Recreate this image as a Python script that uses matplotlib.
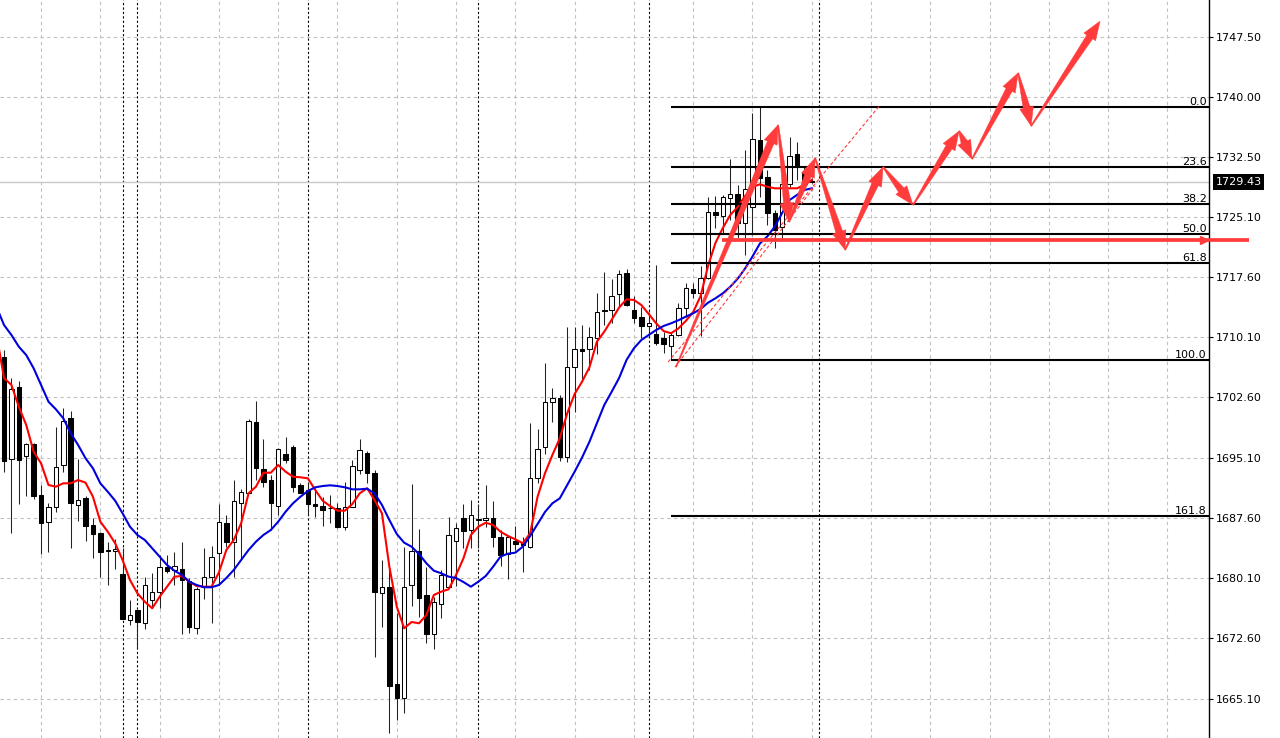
import matplotlib
matplotlib.use("Agg")
import matplotlib.pyplot as plt
import matplotlib.transforms as mtransforms
import numpy as np
from matplotlib.patches import Polygon

# H1 candles, oldest first (bar 0 = first visible bar)
opens = [1707.68, 1694.98, 1703.87, 1695.31, 1696.81, 1690.45, 1687.05, 1688.92, 1694.15, 1700.01,
         1689.21, 1690.04, 1686.72, 1685.68, 1683.60, 1683.51, 1680.61, 1674.88, 1676.13, 1674.55,
         1677.37, 1678.41, 1681.45, 1681.11, 1681.27, 1679.74, 1673.85, 1679.03, 1680.20, 1683.27,
         1686.93, 1684.64, 1689.42, 1690.74, 1699.51, 1693.65, 1692.32, 1689.08, 1695.56, 1696.47,
         1691.70, 1691.08, 1689.33, 1689.08, 1688.87, 1688.87, 1686.50, 1689.00, 1693.57, 1695.72,
         1693.16, 1678.28, 1679.03, 1666.91, 1665.13, 1679.24, 1683.42, 1678.00, 1673.14, 1676.87,
         1679.03, 1684.76, 1687.55, 1686.09, 1687.46, 1687.34, 1687.63, 1685.26, 1683.10, 1684.76,
         1684.44, 1684.01, 1692.53, 1696.40, 1702.00, 1702.57, 1695.23, 1706.44, 1708.60, 1708.60,
         1709.97, 1713.46, 1713.50, 1715.49, 1718.15, 1713.50, 1712.59, 1711.54, 1710.51, 1709.97,
         1708.98, 1710.39, 1713.71, 1716.08, 1715.58, 1717.45, 1725.67, 1725.21, 1727.42, 1727.91,
         1724.38, 1726.37, 1734.68, 1730.03, 1725.55, 1723.88, 1729.20, 1732.94, 1730.73, 1729.57]
highs = [1708.52, 1704.99, 1704.69, 1696.97, 1696.93, 1691.70, 1689.49, 1698.96, 1701.25, 1700.96,
         1694.90, 1690.33, 1687.55, 1685.84, 1684.64, 1684.97, 1683.81, 1677.37, 1676.13, 1680.28,
         1680.70, 1682.98, 1682.98, 1683.32, 1684.56, 1680.11, 1679.03, 1683.81, 1684.10, 1689.33,
         1687.96, 1692.32, 1691.16, 1699.92, 1702.16, 1697.39, 1692.95, 1696.27, 1697.64, 1696.68,
         1691.91, 1692.07, 1691.29, 1690.24, 1690.45, 1689.42, 1692.11, 1694.81, 1697.39, 1695.97,
         1693.57, 1682.36, 1681.11, 1675.72, 1684.01, 1691.82, 1686.18, 1681.52, 1677.78, 1681.11,
         1687.68, 1686.93, 1689.33, 1689.83, 1689.33, 1691.70, 1689.74, 1686.09, 1685.26, 1686.59,
         1685.18, 1699.39, 1698.68, 1706.86, 1703.75, 1702.91, 1711.35, 1711.35, 1711.63, 1711.42,
         1715.58, 1718.27, 1717.36, 1718.48, 1718.60, 1715.24, 1713.91, 1713.29, 1719.11, 1710.80,
         1710.60, 1714.34, 1716.90, 1716.83, 1718.98, 1727.62, 1727.70, 1727.79, 1732.27, 1729.07,
         1733.43, 1738.01, 1738.75, 1730.94, 1725.96, 1729.91, 1735.09, 1734.47, 1731.35, 1729.94]
lows = [1693.36, 1685.68, 1689.33, 1690.33, 1689.92, 1683.10, 1683.32, 1688.30, 1693.36, 1683.81,
        1687.25, 1684.76, 1682.57, 1680.28, 1679.24, 1681.20, 1674.95, 1674.26, 1671.36, 1673.72,
        1676.34, 1676.34, 1680.70, 1679.24, 1673.10, 1673.22, 1673.10, 1677.46, 1674.47, 1679.24,
        1684.01, 1680.28, 1682.57, 1690.70, 1692.32, 1691.49, 1686.09, 1687.96, 1694.40, 1690.86,
        1690.66, 1687.96, 1687.75, 1686.59, 1686.93, 1686.30, 1686.09, 1689.00, 1693.07, 1691.91,
        1670.31, 1674.05, 1660.77, 1662.42, 1663.26, 1676.63, 1675.22, 1672.05, 1671.23, 1675.09,
        1679.03, 1679.12, 1683.81, 1683.81, 1683.85, 1686.50, 1684.01, 1681.61, 1679.95, 1683.60,
        1680.90, 1683.81, 1691.91, 1695.56, 1699.58, 1694.73, 1694.60, 1700.83, 1704.57, 1706.03,
        1708.02, 1711.63, 1711.84, 1713.84, 1714.00, 1711.84, 1709.97, 1710.17, 1709.14, 1708.11,
        1707.36, 1710.26, 1712.59, 1714.96, 1710.26, 1717.33, 1723.68, 1723.06, 1724.71, 1722.43,
        1720.35, 1722.85, 1727.62, 1724.09, 1721.19, 1722.43, 1728.86, 1729.70, 1728.86, 1729.32]
closes = [1694.73, 1703.62, 1694.81, 1696.77, 1690.33, 1687.00, 1689.00, 1693.98, 1699.71, 1689.42,
          1689.79, 1686.63, 1685.56, 1683.39, 1683.48, 1683.72, 1675.01, 1675.50, 1674.67, 1679.24,
          1678.33, 1681.45, 1681.02, 1681.65, 1679.86, 1673.97, 1678.71, 1680.20, 1682.77, 1687.05,
          1684.64, 1689.71, 1690.86, 1699.71, 1693.78, 1692.11, 1689.42, 1696.15, 1694.81, 1691.49,
          1690.74, 1689.33, 1689.08, 1688.58, 1688.80, 1686.50, 1689.00, 1694.07, 1696.06, 1693.23,
          1678.41, 1678.96, 1666.70, 1665.13, 1679.03, 1683.48, 1677.58, 1673.14, 1677.16, 1680.49,
          1685.47, 1686.30, 1686.01, 1687.96, 1687.34, 1687.63, 1685.18, 1682.98, 1685.18, 1684.35,
          1684.23, 1692.53, 1696.15, 1702.00, 1702.50, 1695.15, 1706.36, 1708.60, 1708.43, 1710.10,
          1713.29, 1713.41, 1715.28, 1717.95, 1714.12, 1712.47, 1711.54, 1711.84, 1709.35, 1709.26,
          1710.39, 1713.71, 1716.20, 1715.66, 1717.45, 1725.75, 1725.34, 1727.54, 1727.91, 1724.30,
          1728.57, 1734.77, 1729.91, 1725.62, 1723.47, 1729.16, 1732.69, 1731.28, 1729.20, 1729.43]

# moving averages, first value is one bar left of bar 0
ma_first_bar = -1
fast_ma = [1710.39,
           1705.03, 1704.16, 1701.45, 1699.17, 1695.85, 1694.40, 1691.70, 1691.49, 1691.91, 1691.91,
           1692.32, 1691.99, 1690.24, 1687.13, 1685.88, 1684.44, 1682.36, 1679.86, 1678.21, 1677.16,
           1676.34, 1677.78, 1679.03, 1680.28, 1680.36, 1679.65, 1679.12, 1679.03, 1679.03, 1680.80,
           1683.60, 1684.85, 1686.93, 1690.66, 1691.49, 1693.23, 1693.23, 1694.19, 1693.36, 1692.73,
           1692.66, 1692.53, 1691.08, 1689.74, 1689.08, 1688.50, 1688.50, 1689.33, 1690.66, 1691.29,
           1689.83, 1688.17, 1681.52, 1676.54, 1673.85, 1674.63, 1674.47, 1675.50, 1678.00, 1678.41,
           1678.71, 1680.49, 1682.57, 1685.47, 1686.50, 1687.00, 1686.72, 1685.88, 1685.35, 1684.93,
           1684.44, 1685.68, 1690.24, 1693.16, 1695.44, 1697.52, 1700.63, 1703.04, 1704.57, 1706.36,
           1709.55, 1710.80, 1712.29, 1713.81, 1714.83, 1714.75, 1714.12, 1713.00, 1711.84, 1710.88,
           1710.60, 1711.20, 1712.13, 1713.25, 1715.24, 1718.98, 1721.85, 1723.72, 1725.34, 1726.33,
           1727.70, 1728.82, 1729.16, 1728.86, 1728.66, 1728.66, 1728.66, 1728.66, 1729.07, 1729.70]
slow_ma = [1713.87,
           1711.63, 1710.39, 1708.93, 1707.89, 1706.24, 1704.16, 1702.08, 1701.13, 1700.01, 1698.14,
           1696.68, 1695.03, 1693.78, 1691.91, 1690.86, 1689.74, 1688.17, 1686.50, 1685.47, 1684.85,
           1683.81, 1682.77, 1681.73, 1681.02, 1680.49, 1679.65, 1679.24, 1678.96, 1678.96, 1679.24,
           1680.11, 1681.11, 1682.36, 1683.60, 1684.64, 1685.47, 1686.09, 1687.13, 1688.37, 1689.42,
           1690.24, 1690.95, 1691.41, 1691.57, 1691.66, 1691.57, 1691.41, 1691.16, 1691.16, 1691.24,
           1690.66, 1689.21, 1687.34, 1685.59, 1684.51, 1684.01, 1683.10, 1681.94, 1681.02, 1680.70,
           1680.28, 1680.11, 1679.61, 1679.03, 1679.65, 1680.36, 1681.52, 1682.79, 1683.14, 1683.27,
           1684.01, 1685.35, 1686.84, 1688.34, 1689.42, 1690.04, 1691.70, 1693.36, 1695.12, 1697.09,
           1699.39, 1701.67, 1703.32, 1705.03, 1707.27, 1708.73, 1709.76, 1710.39, 1711.01, 1711.51,
           1711.84, 1712.22, 1712.67, 1713.09, 1713.63, 1714.41, 1714.96, 1715.58, 1716.40, 1717.40,
           1718.67, 1720.17, 1721.79, 1722.66, 1723.88, 1725.58, 1727.20, 1727.83, 1728.45, 1728.66]

price_ticks = [1747.50, 1740.00, 1732.50, 1725.10, 1717.60, 1710.10,
               1702.60, 1695.10, 1687.60, 1680.10, 1672.60, 1665.10]
last_price = 1729.43
day_separators = [16, 18, 41, 64, 87, 110]

# fibonacci retracement: anchored low bar 90 -> high bar 102
fib_start_bar = 90
fib_low = 1707.27
fib_high = 1738.79
fib_levels = [0.0, 23.6, 38.2, 50.0, 61.8, 100.0, 161.8]

# hand drawn forecast zigzag (bar, price)
zigzag_bars = [90.69, 104.45, 105.94, 109.45, 113.50, 118.62, 122.67, 128.88, 130.63, 136.84, 138.60, 147.91]
zigzag_prices = [1706.40, 1736.55, 1724.46, 1732.44, 1720.98, 1731.32, 1726.58, 1735.80, 1732.31, 1743.03, 1736.42, 1749.50]

trend_a_bars = [89.61, 118.22]
trend_a_prices = [1707.02, 1739.04]
trend_b_bars = [90.55, 109.45]
trend_b_prices = [1706.40, 1728.95]

support_price = 1722.22
support_bars = [96.9, 168.0]

RED = "#ff3b3b"
GRID = "#c0c0c0"


def tapered_arrow(ax, p_from, p_to, shaft=7.0, head_w=14.0, head_l=19.0):
    # build the arrow in pixels so its shape does not depend on the axis scale
    tr = ax.transData
    a, b = tr.transform([p_from, p_to])
    d = b - a
    length = np.hypot(d[0], d[1])
    u = d / length
    n = np.array([-u[1], u[0]])
    base = b - u * min(head_l, 0.6 * length)
    pts = [a + n * 0.6, base + n * shaft / 2, base + n * head_w / 2, b,
           base - n * head_w / 2, base - n * shaft / 2, a - n * 0.6]
    pts = tr.inverted().transform(pts)
    ax.add_patch(Polygon(pts, closed=True, facecolor=RED, edgecolor=RED, lw=0.3, zorder=7))


fig = plt.figure(figsize=(12.8, 7.38), dpi=100)
ax = fig.add_axes([0, 0, 1209 / 1280, 1])
ax.set_xlim(-0.54, 162.6)
ax.set_ylim(1660.18, 1752.12)

x = np.arange(len(opens))
o = np.array(opens)
c = np.array(closes)

# grid: every 8 bars / on price labels
ax.set_xticks(np.arange(5, 163, 8))
ax.set_yticks(price_ticks)
ax.set_yticklabels([f"{v:.2f}" for v in price_ticks])
ax.grid(True, color=GRID, linestyle=(0, (3, 3)), linewidth=0.8)
ax.set_axisbelow(True)
ax.yaxis.tick_right()
ax.tick_params(axis="y", direction="out", length=3, width=0.8, pad=2.2, labelsize=8)
ax.tick_params(axis="x", length=0, labelbottom=False)
for side in ["top", "bottom", "left"]:
    ax.spines[side].set_visible(False)
ax.spines["right"].set_linewidth(1.0)

for b in day_separators:
    ax.axvline(b, color="black", linestyle=(0, (2, 2)), linewidth=0.8, zorder=1)

ax.axhline(last_price, color="#c8c8c8", linewidth=1.0, zorder=1)

# candles
ax.vlines(x, lows, highs, color="#222222", linewidth=0.75, zorder=2)
bull = c >= o
ax.bar(x[bull], c[bull] - o[bull], bottom=o[bull], width=0.6,
       facecolor="white", edgecolor="black", linewidth=0.75, zorder=3)
ax.bar(x[~bull], o[~bull] - c[~bull], bottom=c[~bull], width=0.6,
       facecolor="black", edgecolor="black", linewidth=0.75, zorder=3)

ma_x = np.arange(len(fast_ma)) + ma_first_bar
ax.plot(ma_x, fast_ma, color="#ff0000", linewidth=1.5, zorder=4)
ax.plot(ma_x, slow_ma, color="#0000dd", linewidth=1.5, zorder=4)

# fibo levels
label_tr = mtransforms.blended_transform_factory(ax.transAxes, ax.transData)
for lvl in fib_levels:
    p = fib_high - (fib_high - fib_low) * lvl / 100.0
    ax.hlines(p, fib_start_bar, 162.6, color="black", linewidth=1.5, zorder=5)
    ax.text(0.998, p, f"{lvl:.1f}", transform=label_tr, ha="right", va="bottom",
            fontsize=8, zorder=6)

# forecast drawings
ax.plot(trend_a_bars, trend_a_prices, color=RED, linewidth=0.8, linestyle=(0, (3, 2)), zorder=6)
ax.plot(trend_b_bars, trend_b_prices, color=RED, linewidth=0.8, linestyle=(0, (3, 2)), zorder=6)
ax.plot(support_bars, [support_price] * 2, color=RED, linewidth=2.7, zorder=6, clip_on=False,
        solid_capstyle="butt")
ax.plot([161.9], [support_price], marker=">", markersize=6, color=RED, zorder=7, clip_on=False)

for k in range(len(zigzag_bars) - 1):
    tapered_arrow(ax, (zigzag_bars[k], zigzag_prices[k]), (zigzag_bars[k + 1], zigzag_prices[k + 1]))

# current price tag on the scale
ax.text(1.0054, last_price, f"{last_price:.2f}", transform=label_tr, ha="left", va="center",
        fontsize=8, color="white", zorder=8, clip_on=False,
        bbox=dict(boxstyle="square,pad=0.25", facecolor="black", edgecolor="none"))

fig.savefig("out.png", dpi=100)
